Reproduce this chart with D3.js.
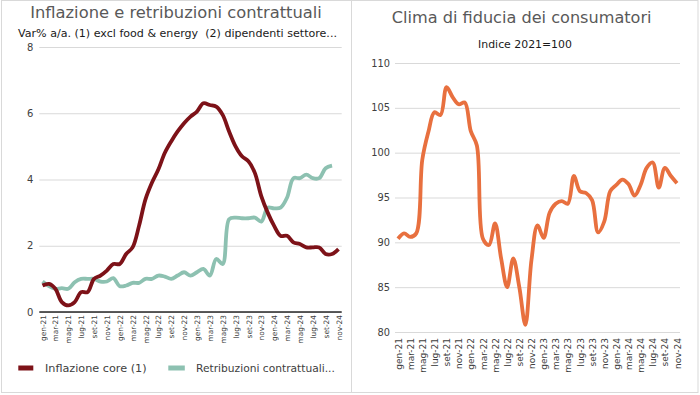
<!DOCTYPE html>
<html><head><meta charset="utf-8">
<script src="https://cdn.jsdelivr.net/npm/d3@7"></script>
<style>body{margin:0;background:#fff} svg{display:block} text{font-family:"DejaVu Sans",Verdana,sans-serif;white-space:pre}</style>
</head><body><svg id="c" width="700" height="395"></svg>
<script>
const months = ["gen-21","feb-21","mar-21","apr-21","mag-21","giu-21","lug-21","ago-21","set-21","ott-21","nov-21","dic-21",
"gen-22","feb-22","mar-22","apr-22","mag-22","giu-22","lug-22","ago-22","set-22","ott-22","nov-22","dic-22",
"gen-23","feb-23","mar-23","apr-23","mag-23","giu-23","lug-23","ago-23","set-23","ott-23","nov-23","dic-23",
"gen-24","feb-24","mar-24","apr-24","mag-24","giu-24","lug-24","ago-24","set-24","ott-24","nov-24"];
const tickMonths = months.filter((d,i)=>i%2===0);
const inflazioneCore = [0.8,0.85,0.7,0.3,0.2,0.3,0.6,0.6,1.0,1.1,1.25,1.45,1.45,1.75,1.95,2.6,3.4,3.9,4.3,4.8,5.15,5.45,5.7,5.9,6.05,6.3,6.25,6.2,5.95,5.45,5.0,4.7,4.55,4.2,3.5,3.0,2.6,2.3,2.3,2.1,2.05,1.95,1.95,1.95,1.75,1.75,1.9];
const retribuzioni = [0.92,0.78,0.7,0.72,0.7,0.9,1.0,1.0,1.0,0.92,0.92,1.02,0.78,0.8,0.88,0.88,1.0,1.0,1.1,1.07,1.0,1.1,1.2,1.1,1.2,1.3,1.1,1.6,1.45,2.8,2.85,2.83,2.83,2.85,2.73,3.15,3.13,3.15,3.45,4.04,4.04,4.15,4.04,4.04,4.34,4.42];
const fiducia = [90.4,91.0,90.6,91.0,99.2,102.3,104.5,104.2,107.3,106.2,105.4,105.6,102.4,100.8,90.4,89.7,92.1,88.2,85.0,88.2,85.0,80.8,88.0,91.9,90.5,93.3,94.3,94.6,94.3,97.4,95.7,95.5,94.7,91.1,92.3,95.7,96.4,97.0,96.5,95.2,96.4,98.3,98.9,96.1,98.3,97.4,96.6];
const yTicksLeft = [0,2,4,6,8];
const yTicksRight = [80,85,90,95,100,105,110];

const svg = d3.select("#c");
function fit(t, w){ const l = t.node().getComputedTextLength(); const fs = parseFloat(t.attr("font-size")); t.attr("font-size", fs*w/l); return t; }

// panel borders
svg.append("rect").attr("x",1.5).attr("y",0.5).attr("width",350).attr("height",392).attr("fill","none").attr("stroke","#d9d9d9");
svg.append("rect").attr("x",351.5).attr("y",0.5).attr("width",346.5).attr("height",392).attr("fill","none").attr("stroke","#d9d9d9");

// ===== Left chart =====
const L = {x0:39.3, x1:341.7, y0:312, y1:47};
const xL = d3.scalePoint().domain(months).range([L.x0,L.x1]).padding(0.5);
const yL = d3.scaleLinear().domain([0,8]).range([L.y0,L.y1]);

fit(svg.append("text").attr("x",176).attr("y",17.5).attr("text-anchor","middle").attr("font-size",16).attr("fill","#595959")
  .text("Inflazione e retribuzioni contrattuali"), 292);
fit(svg.append("text").attr("x",177.5).attr("y",37).attr("text-anchor","middle").attr("font-size",11).attr("fill","#1a1a1a")
  .text("Var% a/a. (1) excl food & energy  (2) dipendenti settore..."), 319);

const gyL = svg.append("g").attr("transform",`translate(${L.x0},0)`)
  .call(d3.axisLeft(yL).tickValues(yTicksLeft).tickSize(-(L.x1-L.x0)).tickPadding(6).tickFormat(d3.format("d")));
gyL.select(".domain").remove();
gyL.selectAll("line").attr("stroke","#d9d9d9").attr("stroke-width",1);
gyL.selectAll("text").attr("font-size",10).attr("fill","#404040").attr("font-family","DejaVu Sans");

const gxL = svg.append("g").attr("transform",`translate(0,${L.y0})`)
  .call(d3.axisBottom(xL).tickValues(tickMonths).tickSize(0));
gxL.select(".domain").attr("d",`M${L.x0},0H${L.x1}`).attr("stroke","#262626").attr("stroke-width",1.3);
gxL.selectAll("text").attr("transform","rotate(-90)").attr("x",-3).attr("y",0).attr("dy","0.35em")
  .attr("text-anchor","end").attr("font-size",7.4).attr("fill","#404040").attr("font-family","DejaVu Sans");

const lineL = d3.line().x((d,i)=>xL(months[i])).y(d=>yL(d)).curve(d3.curveCatmullRom.alpha(0.5));
svg.append("path").datum(retribuzioni).attr("d",lineL).attr("fill","none").attr("stroke","#8dc1b1").attr("stroke-width",3.8).attr("stroke-linejoin","round");
svg.append("path").datum(inflazioneCore).attr("d",lineL).attr("fill","none").attr("stroke","#7d1218").attr("stroke-width",3.8).attr("stroke-linejoin","round");

// legend
svg.append("rect").attr("x",18.3).attr("y",365.5).attr("width",15).attr("height",5).attr("fill","#7d1218");
fit(svg.append("text").attr("x",45).attr("y",372).attr("font-size",11).attr("fill","#404040").text("Inflazione core (1)"), 101.7);
svg.append("rect").attr("x",168.3).attr("y",365.5).attr("width",16.5).attr("height",5).attr("fill","#8dc1b1");
fit(svg.append("text").attr("x",196).attr("y",372).attr("font-size",11).attr("fill","#404040").text("Retribuzioni contrattuali..."), 139);

// ===== Right chart =====
const R = {x0:395, x1:680, y0:332, y1:63};
const xR = d3.scalePoint().domain(months).range([R.x0,R.x1]).padding(0.5);
const yR = d3.scaleLinear().domain([80,110]).range([R.y0,R.y1]);

fit(svg.append("text").attr("x",521.7).attr("y",23).attr("text-anchor","middle").attr("font-size",16).attr("fill","#595959")
  .text("Clima di fiducia dei consumatori"), 260);
fit(svg.append("text").attr("x",525).attr("y",48).attr("text-anchor","middle").attr("font-size",11).attr("fill","#1a1a1a")
  .text("Indice 2021=100"), 94);

const gyR = svg.append("g").attr("transform",`translate(${R.x0},0)`)
  .call(d3.axisLeft(yR).tickValues(yTicksRight).tickSize(-(R.x1-R.x0)).tickPadding(5).tickFormat(d3.format("d")));
gyR.select(".domain").remove();
gyR.selectAll("line").attr("stroke","#d9d9d9").attr("stroke-width",1);
gyR.selectAll("text").attr("font-size",9.8).attr("fill","#404040").attr("font-family","DejaVu Sans");

const gxR = svg.append("g").attr("transform",`translate(0,${R.y0})`)
  .call(d3.axisBottom(xR).tickValues(tickMonths).tickSize(0));
gxR.select(".domain").remove();
gxR.selectAll("text").attr("transform","rotate(-90)").attr("x",-6).attr("y",0).attr("dy","0.35em")
  .attr("text-anchor","end").attr("font-size",9).attr("fill","#404040").attr("font-family","DejaVu Sans");

const lineR = d3.line().x((d,i)=>xR(months[i])).y(d=>yR(d)).curve(d3.curveCatmullRom.alpha(0.5));
svg.append("path").datum(fiducia).attr("d",lineR).attr("fill","none").attr("stroke","#e8703f").attr("stroke-width",3.8).attr("stroke-linejoin","round");
</script></body></html>
